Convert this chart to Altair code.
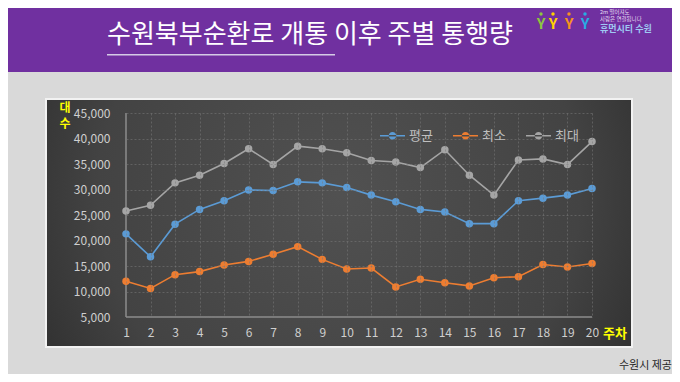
import altair as alt
import pandas as pd

# ---- data ----
weeks = list(range(1, 21))
series_names = ["평균", "최소", "최대"]
avg_vals = [21300, 16800, 23200, 26100, 27800, 29900, 29800, 31500, 31300, 30400,
            28900, 27600, 26100, 25600, 23300, 23300, 27800, 28300, 28900, 30200]
min_vals = [12000, 10600, 13300, 13900, 15200, 15900, 17300, 18800, 16300, 14400,
            14600, 10900, 12400, 11700, 11100, 12700, 12900, 15300, 14800, 15500]
max_vals = [25800, 26900, 31300, 32800, 35100, 38000, 34900, 38500, 38000, 37200,
            35700, 35400, 34300, 37800, 32800, 28900, 35800, 36000, 34900, 39400]
y_ticks = [5000, 10000, 15000, 20000, 25000, 30000, 35000, 40000, 45000]
colors = ["#5B9BD5", "#ED7D31", "#A5A5A5"]

title_text = "수원북부순환로 개통 이후 주별 통행량"
source_text = "수원시 제공"

rows = []
for name, vals in zip(series_names, [avg_vals, min_vals, max_vals]):
    for w, v in zip(weeks, vals):
        rows.append({"week": w, "series": name, "value": v})
df = pd.DataFrame(rows)
one = pd.DataFrame({"k": [0]})

FONT = "Noto Sans CJK KR"

xs = alt.Scale(domain=[1, 20], nice=False, zero=False)
ys = alt.Scale(domain=[5000, 45000], nice=False, zero=False)
cs = alt.Scale(domain=series_names, range=colors)

axis_common = dict(domain=False, ticks=False, grid=True, gridColor="#7A7A7A",
                   gridDash=[2, 2], gridOpacity=0.55, labelColor="#CFCFCF",
                   labelFont=FONT, labelFontSize=12, title=None, zindex=1,
                   labelOverlap=False, labelBound=False, labelFlush=False)
X_AX = alt.Axis(values=weeks, format="d", labelPadding=10, **axis_common)
Y_AX = alt.Axis(values=y_ticks, format=",d", labelPadding=16, **axis_common)


def deco_rect(x, x2, y, y2, color, **kw):
    return alt.Chart(one).mark_rect(color=color, **kw).encode(
        x=alt.value(x), x2=alt.value(x2), y=alt.value(y), y2=alt.value(y2))


def deco_text(text, x, y, **kw):
    return alt.Chart(one).mark_text(text=text, font=FONT, **kw).encode(
        x=alt.value(x), y=alt.value(y))


# offsets: plot origin at reference (126, 113)
header = deco_rect(-140, 570, -125, -41, "#7030A0")
title = deco_text(title_text, -19, -78, align="left", baseline="middle",
                  fontSize=26, color="#FFFFFF")
underline = deco_rect(-19, 209, -59, -57.5, "#D5CBE6")

panel_border = deco_rect(-81, 507, -15, 235, "#F2F2F2")
panel = deco_rect(-79, 505, -13, 233, {
    "gradient": "radial",
    "x1": 0.5, "y1": 0.45, "r1": 0.0,
    "x2": 0.5, "y2": 0.45, "r2": 0.75,
    "stops": [
        {"offset": 0.0, "color": "#515151"},
        {"offset": 0.55, "color": "#434343"},
        {"offset": 1.0, "color": "#1E1E1E"},
    ],
})

# logo (decorative)
logo_parts = []
for lx, col in [(415, "#8DC63F"), (427, "#FFD200"), (443, "#F7941D"), (459, "#29ABE2")]:
    logo_parts.append(deco_text("Y", lx, -89, fontSize=15, fontWeight="bold",
                                color=col, baseline="middle"))
    logo_parts.append(alt.Chart(one).mark_circle(size=12, color=col, opacity=1).encode(
        x=alt.value(lx), y=alt.value(-99)))
logo_parts.append(deco_text("2m 떨어져도", 474, -101, fontSize=5.5, color="#E6DDF2",
                            align="left", baseline="middle"))
logo_parts.append(deco_text("사람은 연결됩니다", 474, -94, fontSize=5.5, color="#E6DDF2",
                            align="left", baseline="middle"))
logo_parts.append(deco_text("휴먼시티 수원", 474, -84, fontSize=9, fontWeight="bold",
                            color="#9FC8F2", align="left", baseline="middle"))

# axis lines drawn through the scales
yaxis_line = alt.Chart(one).mark_rule(color="#8C8C8C", strokeWidth=1.5).encode(
    x=alt.datum(1, scale=xs, axis=X_AX), y=alt.datum(5000, scale=ys, axis=Y_AX),
    y2=alt.datum(45000))
xaxis_line = alt.Chart(one).mark_rule(color="#8C8C8C", strokeWidth=1.5).encode(
    x=alt.datum(1, scale=xs, axis=X_AX), x2=alt.datum(20),
    y=alt.datum(5000, scale=ys, axis=Y_AX))

legend_symbol = ("M-1,-0.06L1,-0.06L1,0.06L-1,0.06Z "
                 "M-0.3,0A0.3,0.3,0,1,0,0.3,0A0.3,0.3,0,1,0,-0.3,0Z")

base = alt.Chart(df)
line_layers = []
for name, col in zip(series_names, colors):
    line_layers.append(
        base.transform_filter(alt.datum.series == name).mark_line(
            strokeWidth=1.6, color=col).encode(
            x=alt.X("week:Q", scale=xs, axis=X_AX),
            y=alt.Y("value:Q", scale=ys, axis=Y_AX),
        )
    )

points = base.mark_circle(size=56, opacity=1).encode(
    x=alt.X("week:Q", scale=xs, axis=X_AX),
    y=alt.Y("value:Q", scale=ys, axis=Y_AX),
    color=alt.Color("series:N", scale=cs, legend=alt.Legend(
        orient="none", legendX=254, legendY=10, direction="horizontal", title=None,
        symbolType=legend_symbol, symbolSize=625, symbolStrokeWidth=0,
        symbolOpacity=1, labelColor="#BFBFBF", labelFont=FONT, labelFontSize=13,
        labelOffset=4, columnPadding=20, zindex=1)),
)

unit_1 = deco_text("대", -61, -5, fontSize=12, fontWeight="bold", color="#FFFF00",
                   baseline="middle")
unit_2 = deco_text("수", -61, 11, fontSize=12, fontWeight="bold", color="#FFFF00",
                   baseline="middle")
xunit = deco_text("주차", 489, 221, fontSize=13, fontWeight="bold", color="#FFFF00",
                  baseline="middle")
source = deco_text(source_text, 546, 253, fontSize=11, color="#262626",
                   align="right", baseline="middle")

chart = alt.layer(
    header, title, underline, *logo_parts,
    panel_border, panel,
    yaxis_line, xaxis_line,
    *line_layers, points,
    unit_1, unit_2, xunit, source,
).properties(
    width=466, height=204,
    padding={"left": 118, "top": 105, "right": 80, "bottom": 57},
    autosize=alt.AutoSizeParams(type="none"),
    background="#D9D9D9",
).configure_view(stroke=None)

chart.save("out.html", embed_options={"renderer": "svg", "actions": False})
